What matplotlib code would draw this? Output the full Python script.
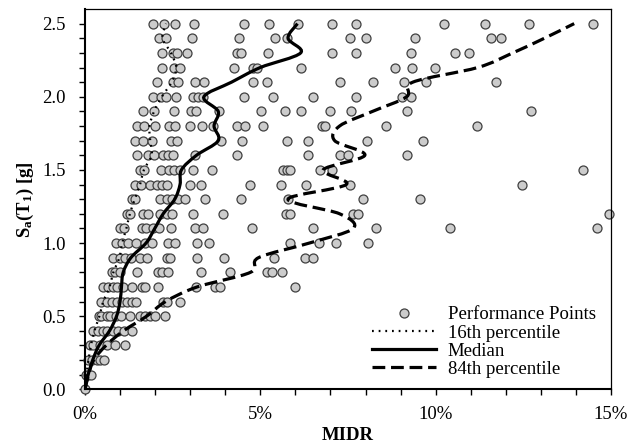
import numpy as np
import matplotlib
matplotlib.use('Agg')
import matplotlib.pyplot as plt
from matplotlib.path import Path
from matplotlib.patches import PathPatch
from matplotlib.lines import Line2D
from matplotlib.ticker import MultipleLocator, FixedLocator, FuncFormatter

plt.rcParams['font.family'] = ['Liberation Serif', 'DejaVu Serif']
plt.rcParams['mathtext.fontset'] = 'custom'
plt.rcParams['mathtext.rm'] = 'Liberation Serif'
plt.rcParams['mathtext.bf'] = 'Liberation Serif:bold'
plt.rcParams['mathtext.it'] = 'Liberation Serif:italic'

# Sa(T1) levels of the IDA (g)
sa_levels = [0.0, 0.1, 0.2, 0.3, 0.4, 0.5, 0.6, 0.7, 0.8, 0.9, 1.0, 1.1, 1.2,
             1.3, 1.4, 1.5, 1.6, 1.7, 1.8, 1.9, 2.0, 2.1, 2.2, 2.3, 2.4, 2.5]

# performance points (MIDR in %), one row per Sa level
midr_points = [
    [0.0],
    [0.03, 0.09, 0.16],
    [0.09, 0.19, 0.33, 0.43, 0.54],
    [0.14, 0.22, 0.43, 0.62, 0.85, 1.14],
    [0.24, 0.36, 0.50, 0.64, 0.81, 0.95, 1.12, 1.33],
    [0.40, 0.47, 0.62, 0.71, 0.88, 1.02, 1.28, 1.57, 1.71, 1.85, 1.99, 2.28],
    [0.47, 0.62, 0.76, 0.90, 1.05, 1.20, 1.33, 1.45, 2.23, 2.34, 2.72],
    [0.52, 0.66, 0.81, 0.92, 1.09, 1.33, 1.62, 1.71, 2.09, 3.16, 3.70, 3.85, 5.98],
    [0.76, 0.85, 1.00, 1.47, 2.07, 2.20, 2.37, 3.32, 4.14, 5.19, 5.34, 5.63],
    [0.81, 1.00, 1.14, 1.31, 1.57, 1.76, 2.34, 2.42, 3.19, 3.95, 5.39, 6.27, 6.50],
    [0.88, 1.05, 1.23, 1.45, 1.70, 1.90, 2.36, 2.58, 3.19, 3.53, 5.84, 6.67, 7.17, 8.07],
    [1.00, 1.12, 1.62, 1.75, 1.95, 2.10, 2.45, 3.13, 3.37, 4.75, 6.50, 8.31, 10.42, 14.61],
    [1.19, 1.28, 1.66, 1.80, 2.14, 2.33, 2.47, 3.09, 3.94, 5.73, 5.86, 7.64, 7.79, 14.94],
    [1.33, 1.42, 2.14, 2.33, 2.47, 2.66, 2.85, 3.42, 4.46, 5.79, 7.93, 9.54],
    [1.43, 1.59, 1.85, 2.04, 2.19, 2.33, 2.99, 3.32, 4.70, 5.58, 6.29, 7.55, 12.47],
    [1.57, 1.69, 2.17, 2.40, 2.54, 2.71, 3.09, 3.63, 5.65, 5.77, 5.86, 6.70, 7.03, 14.20],
    [1.47, 1.80, 1.97, 2.23, 2.37, 2.50, 3.13, 4.34, 6.36, 7.26, 7.50, 9.17],
    [1.42, 1.66, 1.90, 2.44, 2.61, 3.87, 4.48, 5.77, 6.36, 8.03, 9.64],
    [1.47, 1.69, 1.99, 2.40, 2.56, 2.99, 3.35, 3.66, 4.34, 4.55, 5.08, 6.75, 6.84, 8.57, 11.19],
    [1.66, 1.97, 2.54, 3.02, 3.16, 3.83, 5.03, 5.70, 6.17, 7.00, 7.58, 9.17, 12.71],
    [1.95, 2.17, 2.31, 2.59, 3.09, 3.23, 3.37, 4.53, 5.36, 6.49, 7.74, 9.04, 9.31],
    [2.06, 2.52, 2.64, 3.13, 3.39, 4.80, 5.19, 7.26, 8.20, 9.10, 9.73, 11.73],
    [2.19, 2.54, 2.71, 4.25, 4.80, 4.91, 6.17, 8.83, 9.33, 9.97],
    [2.20, 2.52, 2.61, 2.90, 4.34, 4.46, 5.21, 7.03, 7.74, 9.31, 10.54, 10.95],
    [2.12, 2.30, 3.04, 4.40, 5.41, 5.75, 7.55, 8.01, 9.42, 11.57, 11.87],
    [1.95, 2.26, 2.58, 3.11, 4.52, 5.25, 6.06, 7.05, 7.74, 10.24, 11.40, 12.65, 14.50],
]

# fractile curves (MIDR in %) at each Sa level
p16 = [0.0, 0.04, 0.10, 0.17, 0.27, 0.41, 0.52, 0.70, 0.81, 0.98, 1.06, 1.18, 1.28,
       1.42, 1.57, 1.68, 1.90, 1.86, 1.84, 1.97, 2.19, 2.47, 2.60, 2.45, 2.21, 2.31]
p50 = [0.0, 0.09, 0.22, 0.40, 0.70, 0.90, 1.00, 1.04, 1.09, 1.31, 1.74, 1.99, 2.23,
       2.56, 2.71, 2.75, 3.18, 3.80, 3.68, 3.80, 3.39, 4.18, 5.00, 6.15, 5.79, 6.06]
p84 = [0.0, 0.10, 0.25, 0.60, 1.10, 1.76, 2.30, 3.20, 4.72, 4.95, 6.40, 7.65, 7.26,
       5.79, 7.45, 6.79, 7.98, 7.12, 7.26, 8.20, 9.17, 9.35, 11.20, 12.20, 13.10, 13.95]


def smooth_path(x, y):
    # bezier path through the points (like a spreadsheet "smoothed line")
    pts = np.column_stack([x, y])
    n = len(pts)
    verts = [pts[0]]
    codes = [Path.MOVETO]
    for i in range(n - 1):
        p0 = pts[i - 1] if i > 0 else pts[i]
        p3 = pts[i + 2] if i + 2 < n else pts[i + 1]
        verts += [pts[i] + (pts[i + 1] - p0) / 6,
                  pts[i + 1] - (p3 - pts[i]) / 6,
                  pts[i + 1]]
        codes += [Path.CURVE4] * 3
    return Path(verts, codes)


fig = plt.figure(figsize=(6.39, 4.46), dpi=100)
ax = fig.add_axes([85 / 639, 1 - 389.3 / 446, 526 / 639, 380.3 / 446])

mfc, mec = '#cccccc', '#404040'
xs = [v for row in midr_points for v in row]
ys = [sa for sa, row in zip(sa_levels, midr_points) for _ in row]
ax.scatter(xs, ys, s=42, facecolor=mfc, edgecolor=mec, linewidth=0.9,
           zorder=2, clip_on=False)

dot_ls = (0, (0.8, 2.2))
dash_ls = (0, (4, 1.8))
styles = [(p16, dot_ls, 1.6), (p50, '-', 2.3), (p84, dash_ls, 2.3)]
for vals, ls, lw in styles:
    ax.add_patch(PathPatch(smooth_path(vals, sa_levels), fill=False, edgecolor='black',
                           linestyle=ls, linewidth=lw, zorder=3))

ax.set_xlim(0, 15)
ax.set_ylim(0, 2.6)
ax.xaxis.set_major_locator(MultipleLocator(5))
ax.xaxis.set_minor_locator(MultipleLocator(1))
ax.xaxis.set_major_formatter(FuncFormatter(lambda v, p: f'{v:.0f}%'))
ax.yaxis.set_major_locator(MultipleLocator(0.5))
ax.yaxis.set_minor_locator(FixedLocator(sa_levels))
ax.yaxis.set_major_formatter(FuncFormatter(lambda v, p: f'{v:.1f}'))
ax.tick_params(which='both', direction='out', length=4, width=1, color='black')
ax.tick_params(axis='both', labelsize=13.5)
ax.tick_params(axis='y', pad=10)
ax.tick_params(axis='x', pad=8)

for side in ['left', 'bottom']:
    ax.spines[side].set_linewidth(1.5)
for side in ['top', 'right']:
    ax.spines[side].set_linewidth(0.9)

ax.set_xlabel('MIDR', fontsize=13.5, fontweight='bold', labelpad=3)
ax.set_ylabel(r'$\mathbf{S_a(T_1)\ [g]}$', fontsize=13.5, labelpad=4)

handles = [
    Line2D([], [], ls='none', marker='o', ms=6.5, mfc=mfc, mec=mec, mew=0.9),
    Line2D([], [], color='black', ls=dot_ls, lw=1.6),
    Line2D([], [], color='black', ls='-', lw=2.3),
    Line2D([], [], color='black', ls=dash_ls, lw=2.3),
]
labels = ['Performance Points', '16th percentile', 'Median', '84th percentile']
ax.legend(handles, labels, loc='lower right', bbox_to_anchor=(1 - 4 / 526, 0.0),
          frameon=False, fontsize=13.5, handlelength=3.4, handletextpad=0.62,
          labelspacing=0.06, borderaxespad=0.3, borderpad=0.3)

fig.savefig('out.png', dpi=100)
